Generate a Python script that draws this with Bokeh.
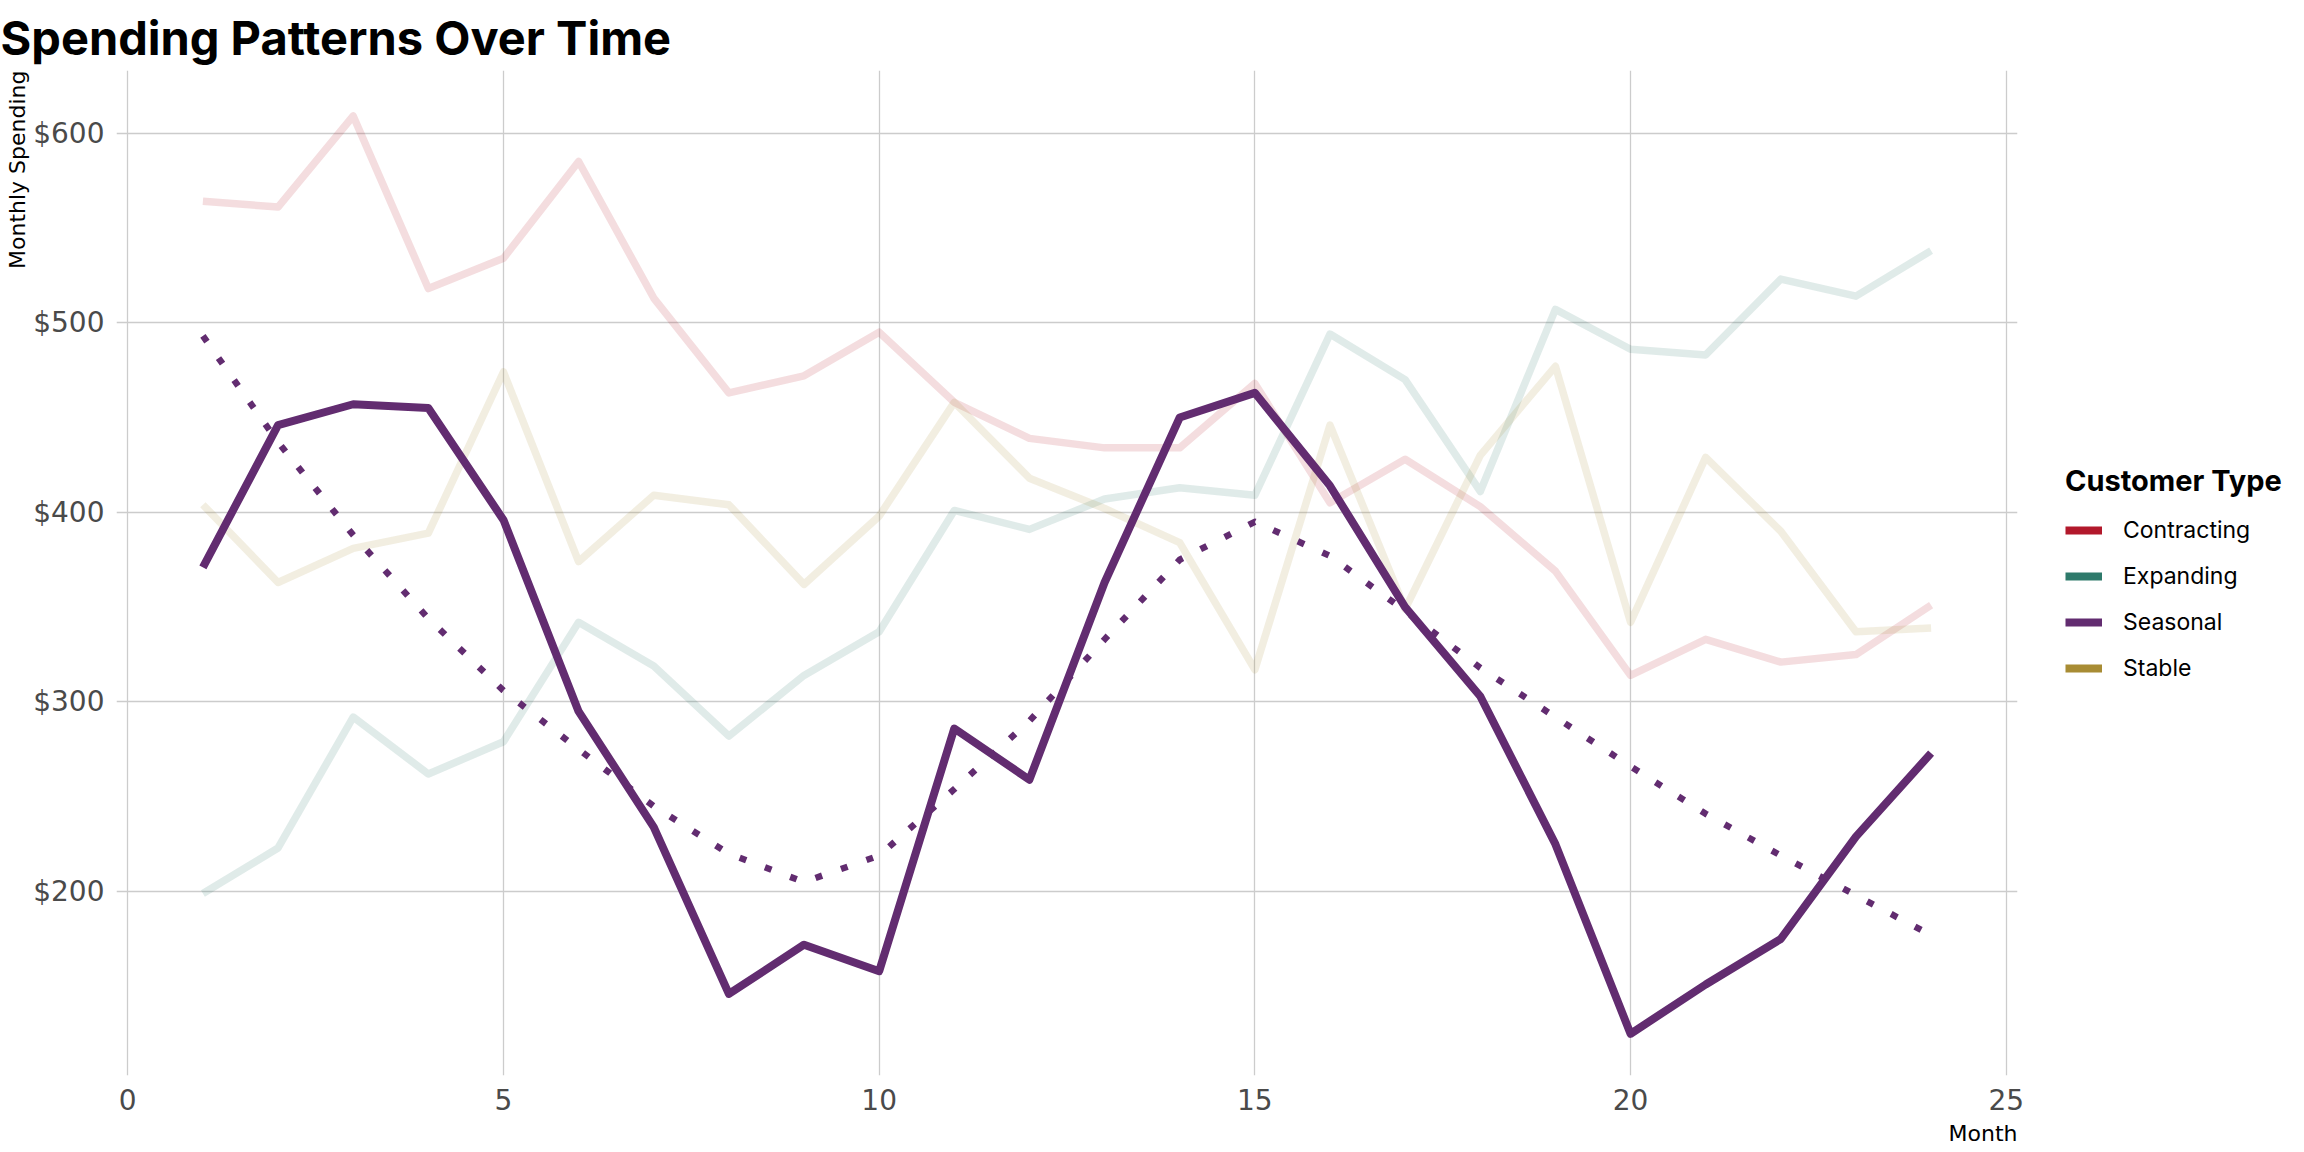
from bokeh.plotting import figure
from bokeh.layouts import row
from bokeh.models import Legend, LegendItem, FixedTicker, NumeralTickFormatter, Range1d, Title
from bokeh.embed import file_html
from bokeh.resources import INLINE

# ---- data ----
months = list(range(1, 25))
contracting = [564, 561, 609, 518, 534, 585, 513, 463, 472, 495, 458, 439,
               434, 434, 468, 405, 428, 403, 369, 314, 333, 321, 325, 351]
expanding = [199, 223, 292, 262, 279, 342, 319, 282, 314, 337, 401, 391,
             407, 413, 409, 494, 470, 411, 507, 486, 483, 523, 514, 538]
seasonal = [371, 446, 457, 455, 396, 295, 234, 146, 172, 158, 286, 259,
            363, 450, 463, 414, 350, 303, 225, 125, 151, 175, 229, 273]
stable = [404, 363, 381, 389, 474, 374, 409, 404, 362, 398, 458, 418,
          402, 384, 317, 446, 349, 430, 477, 342, 429, 390, 337, 339]
seasonal_trend = [493, 437, 388, 344, 306, 275, 245, 220, 205, 219, 254, 290,
                  333, 375, 395, 377, 348, 318, 292, 266, 241, 219, 198, 177]
x_ticks = [0, 5, 10, 15, 20, 25]
y_ticks = [200, 300, 400, 500, 600]
series_names = ["Contracting", "Expanding", "Seasonal", "Stable"]
series_colors = ["#b2182b", "#2e7a6b", "#622c70", "#a88c34"]

FONT = "Inter"
AXFONT = "DejaVu Sans"

X_RANGE = (-0.15, 25.15)
Y_RANGE = (103, 633)

# ---------------- main chart ----------------
p = figure(width=2040, height=1152, output_backend="svg",
           toolbar_location=None,
           x_range=Range1d(*X_RANGE), y_range=Range1d(*Y_RANGE),
           min_border_left=116, min_border_right=23, min_border_top=70,
           min_border_bottom=75, background_fill_color="white",
           border_fill_color="white")
p.outline_line_color = None

p.title.text = "Spending Patterns Over Time"
p.title.text_font = FONT
p.title.text_font_size = "47px"
p.title.text_font_style = "bold"
p.title.text_color = "black"
p.title.align = "left"
p.title.offset = -116
p.title.standoff = 9

p.xaxis.ticker = FixedTicker(ticks=x_ticks)
p.yaxis.ticker = FixedTicker(ticks=y_ticks)
p.yaxis.formatter = NumeralTickFormatter(format="$0")
for ax in (p.xaxis, p.yaxis):
    ax.axis_line_color = None
    ax.major_tick_line_color = None
    ax.minor_tick_line_color = None
    ax.major_tick_out = 0
    ax.major_tick_in = 0
    ax.major_label_text_font = AXFONT
    ax.major_label_text_font_size = "28px"
    ax.major_label_text_color = "#4a4a4a"
p.yaxis.major_label_standoff = 12
p.xaxis.major_label_standoff = 13

p.grid.grid_line_color = "#cccccc"
p.grid.grid_line_width = 1.3
p.xgrid.ticker = FixedTicker(ticks=x_ticks)
p.ygrid.ticker = FixedTicker(ticks=y_ticks)

p.add_layout(Title(text="Monthly Spending", align="right", text_font=AXFONT,
                   text_font_size="22px", text_font_style="normal",
                   text_color="black", standoff=2), "left")
p.add_layout(Title(text="Month", align="right", text_font=AXFONT,
                   text_font_size="22px", text_font_style="normal",
                   text_color="black", standoff=13), "below")

faded = {"Contracting": contracting, "Expanding": expanding, "Stable": stable}
for name, color in zip(series_names, series_colors):
    if name in faded:
        p.line(months, faded[name], line_color=color, line_alpha=0.15,
               line_width=7.5, line_join="round")

p.line(months, seasonal_trend, line_color=series_colors[2], line_width=6.5,
       line_dash="7 20", line_join="round")
p.line(months, seasonal, line_color=series_colors[2], line_width=8,
       line_join="round")

# ---------------- legend panel ----------------
lp = figure(width=264, height=1152, output_backend="svg",
            toolbar_location=None, x_axis_type=None, y_axis_type=None,
            x_range=Range1d(*X_RANGE), y_range=Range1d(*Y_RANGE),
            min_border=0, min_border_left=0, min_border_right=0,
            min_border_top=0, min_border_bottom=0,
            background_fill_color="white", border_fill_color="white")
lp.outline_line_color = None
lp.grid.visible = False

all_series = {"Contracting": contracting, "Expanding": expanding,
              "Seasonal": seasonal, "Stable": stable}
items = []
for name, color in zip(series_names, series_colors):
    r = lp.line(months, all_series[name], line_color=color, line_width=8,
                visible=False)
    items.append(LegendItem(label=name, renderers=[r]))

legend = Legend(items=items, location=(25, 393), title="Customer Type",
                title_text_font=FONT, title_text_font_size="29px",
                title_text_font_style="bold", title_text_color="black",
                title_standoff=18,
                label_text_font=FONT, label_text_font_size="23px",
                label_text_color="black",
                glyph_width=37, glyph_height=24, label_height=24,
                label_standoff=21, spacing=18, padding=0, margin=0,
                border_line_color=None, background_fill_alpha=0,
                inactive_fill_alpha=0)
lp.add_layout(legend, "center")

layout = row(p, lp)
open("out.html", "w").write(file_html(layout, INLINE))
